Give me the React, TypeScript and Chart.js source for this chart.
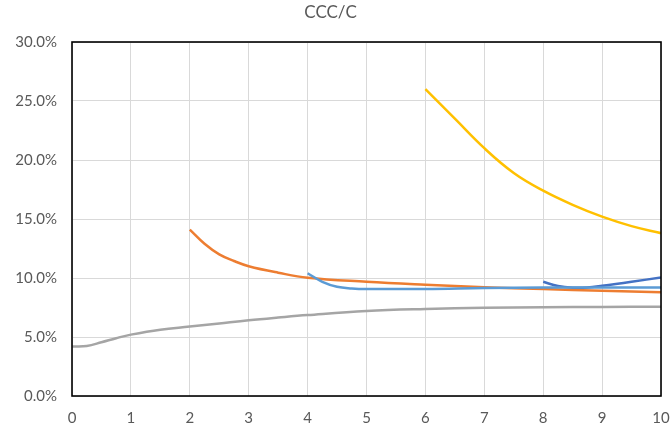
import React, { useEffect, useRef } from "react";
import { Chart, registerables } from "chart.js";

Chart.register(...registerables);

const TITLE = "CCC/C";

const grayX = [0, 0.25, 0.5, 0.75, 1, 1.5, 2, 2.5, 3, 3.5, 4, 5, 6, 7, 8, 9, 10];
const grayY = [4.2, 4.24, 4.55, 4.9, 5.2, 5.62, 5.88, 6.15, 6.42, 6.65, 6.86, 7.2, 7.37, 7.47, 7.53, 7.55, 7.57];

const orangeX = [2, 2.25, 2.5, 2.75, 3, 3.5, 4, 5, 6, 7, 8, 9, 10];
const orangeY = [14.1, 12.9, 12.0, 11.44, 11.0, 10.45, 10.02, 9.68, 9.43, 9.22, 9.06, 8.92, 8.79];

const lightBlueX = [4, 4.25, 4.5, 4.75, 5, 6, 7, 8, 9, 10];
const lightBlueY = [10.4, 9.68, 9.26, 9.12, 9.07, 9.07, 9.15, 9.2, 9.2, 9.2];

const yellowX = [6, 6.5, 7, 7.5, 8, 8.5, 9, 9.5, 10];
const yellowY = [26.0, 23.5, 21.0, 18.9, 17.4, 16.2, 15.2, 14.4, 13.8];

const blueX = [8, 8.25, 8.5, 8.75, 9, 9.5, 10];
const blueY = [9.68, 9.32, 9.18, 9.2, 9.34, 9.68, 10.05];

const toPts = (xs: number[], ys: number[]) => xs.map((x, i) => ({ x, y: ys[i] }));

const FONT = "Lato, 'Open Sans', sans-serif";
const TEXT = "#595959";

const framePlugin = {
  id: "frame",
  afterDatasetsDraw(chart: any) {
    const { ctx, chartArea } = chart;
    ctx.save();
    ctx.strokeStyle = "#000000";
    ctx.lineWidth = 1.6;
    ctx.strokeRect(chartArea.left, chartArea.top, chartArea.right - chartArea.left, chartArea.bottom - chartArea.top);
    ctx.restore();
  },
};

export default function App() {
  const ref = useRef<HTMLCanvasElement>(null);
  useEffect(() => {
    if (!ref.current) return;
    const mk = (label: string, xs: number[], ys: number[], color: string) => ({
      label,
      data: toPts(xs, ys),
      borderColor: color,
      backgroundColor: color,
      borderWidth: 2.5,
      pointRadius: 0,
      showLine: true,
      fill: false,
      tension: 0.4,
    });
    const chart = new Chart(ref.current, {
      type: "scatter",
      data: {
        datasets: [
          mk("S5", lightBlueX, lightBlueY, "#5B9BD5"),
          mk("S4", yellowX, yellowY, "#FFC000"),
          mk("S3", grayX, grayY, "#A5A5A5"),
          mk("S2", orangeX, orangeY, "#ED7D31"),
          mk("S1", blueX, blueY, "#4472C4"),
        ],
      },
      options: {
        animation: false,
        responsive: false,
        layout: { padding: { left: 0, right: 9, top: 0, bottom: 0 } },
        plugins: {
          legend: { display: false },
          tooltip: { enabled: false },
          title: {
            display: true,
            text: TITLE,
            color: TEXT,
            font: { family: FONT, size: 17, weight: "normal", lineHeight: 1.2 },
            padding: { top: 2, bottom: 19.6 },
          },
        },
        scales: {
          x: {
            type: "linear",
            min: 0,
            max: 10,
            ticks: { stepSize: 1, color: TEXT, font: { family: FONT, size: 15 }, padding: 13, maxRotation: 0 },
            grid: { color: "#D9D9D9", lineWidth: 1, drawTicks: false },
            border: { display: false },
            afterFit: (s: any) => {
              s.height = 36;
              s.paddingLeft = 0;
              s.paddingRight = 0;
            },
          },
          y: {
            type: "linear",
            min: 0,
            max: 30,
            ticks: {
              stepSize: 5,
              color: TEXT,
              font: { family: FONT, size: 15 },
              padding: 15,
              callback: (v: any) => Number(v).toFixed(1) + "%",
            },
            grid: { color: "#D9D9D9", lineWidth: 1, drawTicks: false },
            border: { display: false },
            afterFit: (s: any) => {
              s.width = 72;
              s.paddingTop = 0;
              s.paddingBottom = 0;
            },
          },
        },
      },
      plugins: [framePlugin],
    });
    return () => chart.destroy();
  }, []);
  return (
    <div style={{ position: "absolute", left: 0, top: 0, width: 670, height: 432, background: "#fff" }}>
      <canvas ref={ref} width={670} height={432} style={{ display: "block" }} />
    </div>
  );
}
